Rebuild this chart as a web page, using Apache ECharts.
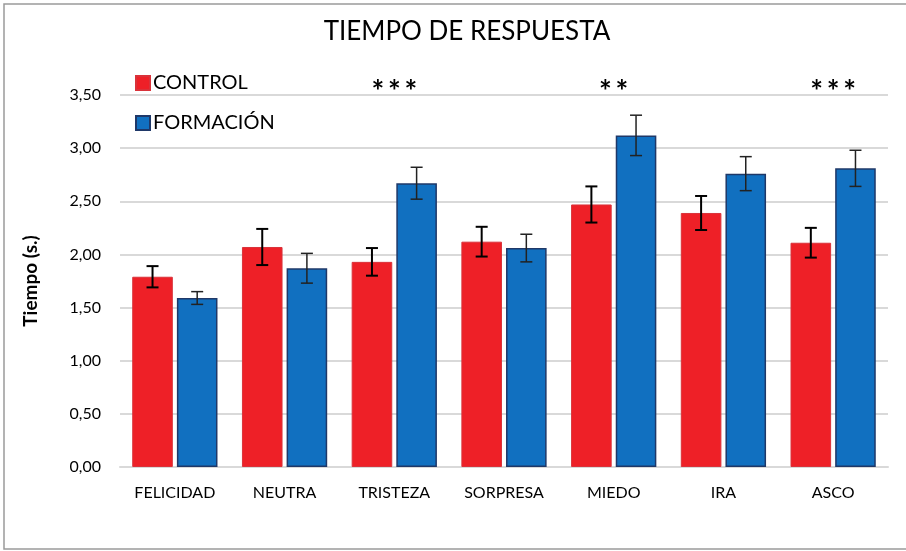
<!DOCTYPE html>
<html>
<head>
<meta charset="utf-8">
<script src="https://cdn.jsdelivr.net/npm/echarts@6/dist/echarts.min.js"></script>
<style>
  html, body { margin: 0; padding: 0; background: #fff; }
  #chart { width: 906px; height: 551px; }
</style>
</head>
<body>
<div id="chart"></div>
<script>
// Emotion categories and mean response times (s.) with their error margins
const categories = ['FELICIDAD', 'NEUTRA', 'TRISTEZA', 'SORPRESA', 'MIEDO', 'IRA', 'ASCO'];
const controlValues = [1.79, 2.07, 1.93, 2.12, 2.47, 2.39, 2.11];
const controlErrors = [0.10, 0.17, 0.13, 0.14, 0.17, 0.16, 0.14];
const formacionValues = [1.59, 1.87, 2.67, 2.06, 3.12, 2.76, 2.81];
const formacionErrors = [0.06, 0.14, 0.15, 0.13, 0.19, 0.16, 0.17];
// Significance marks shown above each category
const significance = ['', '', '***', '', '**', '', '***'];
const yTicks = { min: 0, max: 3.5, interval: 0.5 };

const FONT = 'Lato, "Open Sans", sans-serif';
const BAR_WIDTH = 0.37;   // fraction of category band
const BAR_GAP = 0.10;     // fraction of bar width

const chart = echarts.init(document.getElementById('chart'));

function errorBarSeries(values, errors, side, lineWidth, color) {
  const data = values.map((v, i) => [i, v - errors[i], v + errors[i]]);
  return {
    type: 'custom',
    z: 10,
    silent: true,
    data: data,
    encode: { x: 0, y: [1, 2] },
    renderItem: function (params, api) {
      const idx = api.value(0);
      const lo = api.coord([idx, api.value(1)]);
      const hi = api.coord([idx, api.value(2)]);
      const band = api.size([1, 0])[0];
      const off = side * band * (BAR_WIDTH / 2 + BAR_WIDTH * BAR_GAP / 2);
      const x = lo[0] + off;
      const cap = 6;
      const style = { stroke: color, lineWidth: lineWidth };
      return {
        type: 'group',
        children: [
          { type: 'line', shape: { x1: x, y1: hi[1], x2: x, y2: lo[1] }, style: style },
          { type: 'line', shape: { x1: x - cap, y1: hi[1], x2: x + cap, y2: hi[1] }, style: style },
          { type: 'line', shape: { x1: x - cap, y1: lo[1], x2: x + cap, y2: lo[1] }, style: style }
        ]
      };
    }
  };
}

const option = {
  backgroundColor: '#fff',
  animation: false,
  title: {
    text: 'TIEMPO DE RESPUESTA',
    left: 462,
    textAlign: 'center',
    top: 14,
    textStyle: { fontFamily: FONT, fontSize: 26, fontWeight: 'normal', color: '#000' }
  },
  legend: {
    orient: 'vertical',
    left: 130,
    top: 68,
    icon: 'rect',
    itemWidth: 14,
    itemHeight: 14,
    itemGap: 20,
    data: ['CONTROL', 'FORMACIÓN'],
    textStyle: { fontFamily: FONT, fontSize: 20, color: '#000', padding: [0, 0, 0, -2] }
  },
  grid: { left: 120, right: 18, top: 95, bottom: 84 },
  xAxis: {
    type: 'category',
    data: categories,
    axisTick: { show: false },
    axisLine: { lineStyle: { color: '#d9d9d9', width: 2 } },
    axisLabel: { fontFamily: FONT, fontSize: 16, color: '#000', margin: 18 }
  },
  yAxis: {
    type: 'value',
    min: yTicks.min,
    max: yTicks.max,
    interval: yTicks.interval,
    name: 'Tiempo (s.)',
    nameLocation: 'middle',
    nameGap: 80,
    nameTextStyle: { fontFamily: FONT, fontSize: 19, fontWeight: 'bold', color: '#000' },
    axisLine: { show: false },
    axisTick: { show: false },
    splitLine: { lineStyle: { color: '#d9d9d9', width: 2 } },
    axisLabel: {
      fontFamily: FONT, fontSize: 16, color: '#000', margin: 19,
      formatter: v => v.toFixed(2).replace('.', ',')
    }
  },
  series: [
    {
      name: 'CONTROL',
      type: 'bar',
      data: controlValues,
      barWidth: (BAR_WIDTH * 100) + '%',
      barGap: (BAR_GAP * 100) + '%',
      itemStyle: { color: '#ee2027', borderColor: '#d9323a', borderWidth: 1 }
    },
    {
      name: 'FORMACIÓN',
      type: 'bar',
      data: formacionValues,
      barWidth: (BAR_WIDTH * 100) + '%',
      itemStyle: { color: '#1170c0', borderColor: '#1f3868', borderWidth: 1.5 }
    },
    errorBarSeries(controlValues, controlErrors, -1, 2, '#000'),
    errorBarSeries(formacionValues, formacionErrors, 1, 1.5, '#222'),
    {
      type: 'custom',
      silent: true,
      z: 11,
      data: significance.map((s, i) => [i, yTicks.max]),
      encode: { x: 0, y: 1 },
      renderItem: function (params, api) {
        const p = api.coord([api.value(0), api.value(1)]);
        const label = significance[params.dataIndex].split('').join('\u2009');
        return {
          type: 'text',
          style: {
            x: p[0], y: p[1] - 3,
            text: label,
            textAlign: 'center', textVerticalAlign: 'middle',
            font: 'bold 30px ' + FONT,
            fill: '#000'
          }
        };
      }
    }
  ],
  graphic: [
    {
      type: 'rect',
      shape: { x: 4, y: 4, width: 920, height: 545 },
      style: { fill: 'none', stroke: '#9a9a9a', lineWidth: 1.5 },
      silent: true
    }
  ]
};

chart.setOption(option);
</script>
</body>
</html>
